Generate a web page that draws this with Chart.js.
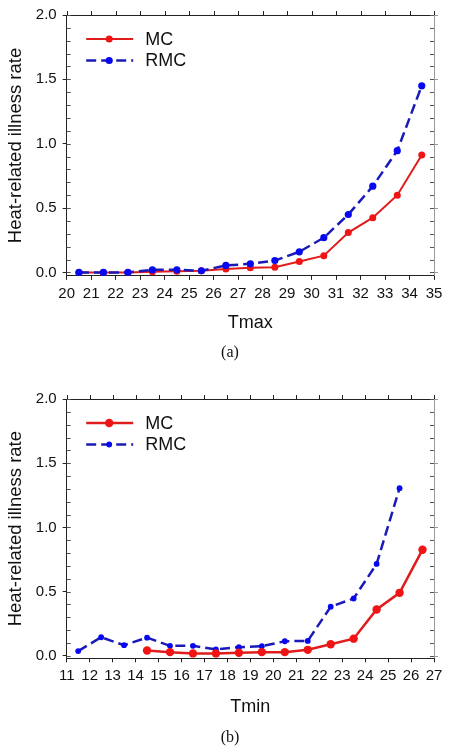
<!DOCTYPE html>
<html>
<head>
<meta charset="utf-8">
<script src="https://cdn.jsdelivr.net/npm/chart.js@4"></script>
<style>
  body { margin: 0; background: #fff; }
  #wrap { position: relative; width: 450px; height: 750px; background: #fff; }
  canvas { position: absolute; left: 0; }
  .cap { position: absolute; left: 205px; width: 50px; text-align: center; font: 16px "Liberation Serif", serif; line-height: 20px; color: #111; }
</style>
</head>
<body>
<div id="wrap">
  <canvas id="chartA" width="450" height="345" style="top:0px"></canvas>
  <div class="cap" style="top:342px">(a)</div>
  <canvas id="chartB" width="450" height="345" style="top:384px"></canvas>
  <div class="cap" style="top:727px">(b)</div>
</div>
<script>
// panel (a): Tmax
const tmaxX = [20.5, 21.5, 22.5, 23.5, 24.5, 25.5, 26.5, 27.5, 28.5, 29.5, 30.5, 31.5, 32.5, 33.5, 34.5];
const tmaxMC = [0, 0, 0, 0.005, 0.01, 0.013, 0.026, 0.036, 0.041, 0.085, 0.13, 0.31, 0.425, 0.60, 0.913];
const tmaxRMC = [0, 0, 0, 0.02, 0.02, 0.013, 0.054, 0.067, 0.092, 0.16, 0.27, 0.45, 0.67, 0.946, 1.45];

// panel (b): Tmin
const tminMCX = [14.5, 15.5, 16.5, 17.5, 18.5, 19.5, 20.5, 21.5, 22.5, 23.5, 24.5, 25.5, 26.5];
const tminMC = [0.041, 0.028, 0.018, 0.018, 0.023, 0.028, 0.028, 0.046, 0.09, 0.133, 0.36, 0.49, 0.826];
const tminRMCX = [11.5, 12.5, 13.5, 14.5, 15.5, 16.5, 17.5, 18.5, 19.5, 20.5, 21.5, 22.5, 23.5, 24.5, 25.5];
const tminRMC = [0.036, 0.144, 0.082, 0.141, 0.077, 0.077, 0.049, 0.067, 0.074, 0.113, 0.115, 0.382, 0.446, 0.715, 1.305];

const yTicks = [0, 0.5, 1.0, 1.5, 2.0];
const yMinorStep = 0.1;
const seriesNames = ['MC', 'RMC'];
const yTitle = 'Heat-related illness rate';

const FONT = '"Liberation Sans", Arial, sans-serif';
const RED_LINE = '#e01c1c', RED_DOT = '#f01414';
const BLUE_LINE = '#1a1ab8', BLUE_DOT = '#0808f0';

function pts(xs, ys) {
  return xs.map((x, i) => ({ x: x, y: ys[i] }));
}

// frame, minor ticks and legend drawn over the chart
const framePlugin = {
  id: 'frame',
  afterDraw(chart) {
    const { ctx, chartArea: a, scales: { x, y } } = chart;
    ctx.save();
    ctx.lineWidth = 1;
    ctx.strokeStyle = '#222';
    const seg = (x1, y1, x2, y2) => { ctx.beginPath(); ctx.moveTo(x1, y1); ctx.lineTo(x2, y2); ctx.stroke(); };
    seg(a.left, a.top + 0.5, a.right, a.top + 0.5);
    x.ticks.forEach(t => {
      const px = Math.round(x.getPixelForValue(t.value)) + 0.5;
      seg(px, a.top, px, a.top - 4);
    });
    ctx.strokeStyle = '#555';
    for (let v = 0; v <= 2.0001; v += yMinorStep) {
      const py = Math.round(y.getPixelForValue(v)) + 0.5;
      seg(a.left, py, a.left + 4, py);
      seg(a.right, py, a.right - 4, py);
    }
    ctx.strokeStyle = '#999';
    seg(a.right + 0.5, a.top, a.right + 0.5, a.bottom);
    yTicks.forEach(v => {
      const py = Math.round(y.getPixelForValue(v)) + 0.5;
      seg(a.right, py, a.right + 4, py);
    });

    // legend
    chart.data.datasets.forEach((ds, i) => {
      const ly = a.top + 24 + i * 21.5;
      ctx.strokeStyle = ds.borderColor;
      ctx.lineWidth = ds.borderWidth;
      ctx.setLineDash(ds.borderDash || []);
      seg(a.left + 19.5, ly, a.left + 66.5, ly);
      ctx.setLineDash([]);
      ctx.fillStyle = ds.pointBackgroundColor;
      ctx.beginPath();
      ctx.arc(a.left + 42.5, ly, ds.pointRadius, 0, Math.PI * 2);
      ctx.fill();
      ctx.fillStyle = '#111';
      ctx.font = '18px ' + FONT;
      ctx.textBaseline = 'middle';
      ctx.fillText(ds.label, a.left + 78.5, ly + 1);
    });
    ctx.restore();
  }
};

function makeChart(id, cfg) {
  return new Chart(document.getElementById(id), {
    type: 'line',
    data: {
      datasets: [
        { label: seriesNames[0], data: pts(cfg.mcX, cfg.mcY), borderColor: RED_LINE, borderWidth: cfg.mcWidth,
          pointBackgroundColor: RED_DOT, pointBorderWidth: 0, pointRadius: cfg.mcRadius, order: cfg.mcOrder },
        { label: seriesNames[1], data: pts(cfg.rmcX, cfg.rmcY), borderColor: BLUE_LINE, borderWidth: 2.5, borderDash: [10, 5],
          pointBackgroundColor: BLUE_DOT, pointBorderWidth: 0, pointRadius: cfg.rmcRadius, order: cfg.rmcOrder }
      ]
    },
    options: {
      responsive: false,
      animation: false,
      layout: { padding: { top: 12, right: 16, left: 0, bottom: 0 } },
      plugins: { legend: { display: false }, tooltip: { enabled: false } },
      scales: {
        x: {
          type: 'linear', min: cfg.xMin, max: cfg.xMax,
          ticks: { stepSize: 1, autoSkip: false, maxRotation: 0, color: '#111', padding: 5, font: { family: FONT, size: 15 } },
          grid: { drawOnChartArea: false, tickLength: 4, color: '#222' },
          border: { color: '#222', width: 1 },
          title: { display: true, text: cfg.xTitle, color: '#111', font: { family: FONT, size: 18 }, padding: { top: 0, bottom: 11 } },
          afterFit(s) { s.height = cfg.xHeight; }
        },
        y: {
          min: cfg.yMin, max: 2,
          afterBuildTicks(s) { s.ticks = yTicks.map(v => ({ value: v })); },
          ticks: { color: '#111', padding: 6, font: { family: FONT, size: 15 }, callback: v => v.toFixed(1) },
          grid: { drawOnChartArea: false, tickLength: 4, color: '#222' },
          border: { color: '#222', width: 1 },
          title: { display: true, text: yTitle, color: '#111', font: { family: FONT, size: 18.5, lineHeight: 1 }, padding: { top: 7, bottom: 0 } },
          afterFit(s) { s.width = 66.7; }
        }
      }
    },
    plugins: [framePlugin]
  });
}

makeChart('chartA', {
  xTitle: 'Tmax', xMin: 20, xMax: 35, yMin: -0.027, xHeight: 69.1,
  mcX: tmaxX, mcY: tmaxMC, rmcX: tmaxX, rmcY: tmaxRMC,
  mcWidth: 2, mcRadius: 3.5, rmcRadius: 3.6, mcOrder: 1, rmcOrder: 0
});

makeChart('chartB', {
  xTitle: 'Tmin', xMin: 11, xMax: 27, yMin: -0.02, xHeight: 70.7,
  mcX: tminMCX, mcY: tminMC, rmcX: tminRMCX, rmcY: tminRMC,
  mcWidth: 2.5, mcRadius: 4.2, rmcRadius: 2.9, mcOrder: 0, rmcOrder: 1
});
</script>
</body>
</html>
